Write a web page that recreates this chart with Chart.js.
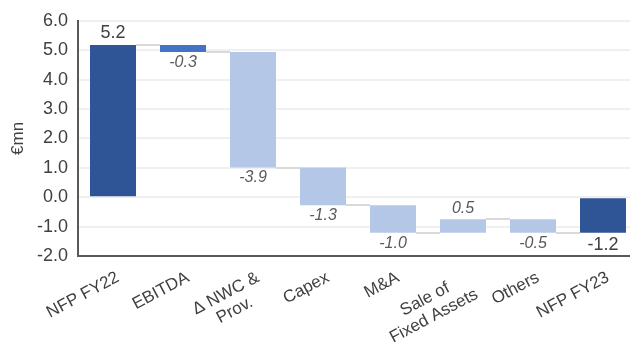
<!DOCTYPE html>
<html><head><meta charset="utf-8">
<script src="https://cdn.jsdelivr.net/npm/chart.js@4/dist/chart.umd.min.js"></script>
<style>html,body{margin:0;padding:0;overflow:hidden;background:#fff;width:630px;height:349px}canvas{display:block}</style>
</head><body>
<canvas id="c" width="640" height="349" style="width:640px;height:349px"></canvas>
<script>
const categories = [['NFP FY22'], ['EBITDA'], ['Δ NWC &', 'Prov.'], ['Capex'], ['M&A'], ['Sale of', 'Fixed Assets'], ['Others'], ['NFP FY23']];
const startValue = 5.18;
const deltas = [-0.24, -3.93, -1.28, -0.94, 0.46, -0.46];
const endValue = -1.21;
const valueLabels = ['5.2', '-0.3', '-3.9', '-1.3', '-1.0', '0.5', '-0.5', '-1.2'];
const barKinds = ['total', 'ebitda', 'delta', 'delta', 'delta', 'delta', 'delta', 'total'];
const yMin = -2, yMax = 6, yStep = 1;

const kindColors = {total: '#2F5597', ebitda: '#4472C4', delta: '#B4C7E7'};
const FONT = '"Liberation Sans", Arial, sans-serif';

// build floating ranges and running levels
const ranges = [[0, startValue]];
const levels = [startValue];
let lvl = startValue;
deltas.forEach(d => { ranges.push([lvl, lvl + d]); lvl = lvl + d; levels.push(lvl); });
ranges.push([endValue, 0]);
const up = [true].concat(deltas.map(d => d > 0)).concat([false]);

const wfPlugin = {
  id: 'wf',
  beforeDatasetsDraw(chart) {
    const ctx = chart.ctx, y = chart.scales.y;
    const meta = chart.getDatasetMeta(0);
    ctx.save();
    ctx.strokeStyle = '#d9d9d9';
    ctx.lineWidth = 2;
    for (let i = 0; i < meta.data.length - 1; i++) {
      const a = meta.data[i], b = meta.data[i + 1];
      const py = Math.round(y.getPixelForValue(levels[i]));
      ctx.beginPath();
      ctx.moveTo(a.x + a.width / 2, py);
      ctx.lineTo(b.x - b.width / 2, py);
      ctx.stroke();
    }
    ctx.restore();
  },
  afterDraw(chart) {
    const ctx = chart.ctx, y = chart.scales.y, x = chart.scales.x;
    const meta = chart.getDatasetMeta(0);
    ctx.save();
    // value labels
    meta.data.forEach((bar, i) => {
      const r = ranges[i];
      const hi = Math.max(r[0], r[1]), lo = Math.min(r[0], r[1]);
      const total = barKinds[i] === 'total';
      ctx.font = (total ? '' : 'italic ') + (total ? '18px ' : '16px ') + FONT;
      ctx.fillStyle = total ? '#404040' : '#595959';
      ctx.textAlign = 'center';
      ctx.textBaseline = 'middle';
      const off = total ? 12 : 10.5;
      const py = up[i] ? y.getPixelForValue(hi) - off : y.getPixelForValue(lo) + off;
      ctx.fillText(valueLabels[i], bar.x, py);
    });
    // rotated category labels
    const ang = 28 * Math.PI / 180;
    ctx.font = '17px ' + FONT;
    ctx.fillStyle = '#404040';
    ctx.textBaseline = 'top';
    ctx.textAlign = 'center';
    categories.forEach((lines, i) => {
      const px = x.getPixelForTick(i);
      const W = Math.max(...lines.map(l => ctx.measureText(l).width));
      ctx.save();
      ctx.translate(px + 1, 269);
      ctx.rotate(-ang);
      lines.forEach((l, j) => ctx.fillText(l, -W / 2, j * 19));
      ctx.restore();
    });
    ctx.restore();
  }
};

new Chart(document.getElementById('c'), {
  type: 'bar',
  data: {
    labels: categories,
    datasets: [{
      data: ranges,
      backgroundColor: barKinds.map(k => kindColors[k]),
      borderWidth: 0,
      categoryPercentage: 1,
      barPercentage: 0.657
    }]
  },
  options: {
    responsive: false,
    animation: false,
    layout: {padding: {top: 18, right: 2, bottom: 0, left: 0}},
    plugins: {legend: {display: false}, tooltip: {enabled: false}},
    scales: {
      x: {
        grid: {display: false, drawTicks: false},
        border: {display: true, color: '#595959', width: 2},
        ticks: {display: false},
        afterFit(s) { s.height = 93; }
      },
      y: {
        min: yMin, max: yMax,
        grid: {color: '#f0f0f0', lineWidth: 2, drawTicks: false},
        border: {display: true, color: '#595959', width: 2},
        ticks: {stepSize: yStep, padding: 10, color: '#404040', font: {family: FONT, size: 18},
          callback: v => Number(v).toFixed(1)},
        title: {display: true, text: '€mn', color: '#404040', font: {family: FONT, size: 17}, padding: {top: 8, bottom: 0}},
        afterFit(s) { s.width = 78; }
      }
    }
  },
  plugins: [wfPlugin]
});
</script>
</body></html>
